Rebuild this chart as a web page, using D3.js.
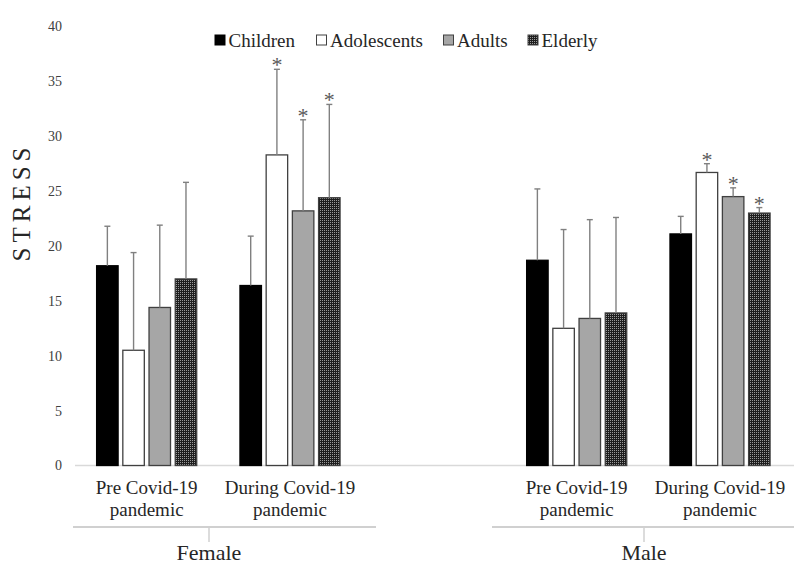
<!DOCTYPE html>
<html><head><meta charset="utf-8">
<script src="https://cdn.jsdelivr.net/npm/d3@7"></script>
<style>body{margin:0;background:#fff}svg{display:block}</style>
</head><body>
<svg id="c" width="794" height="565" font-family="'Liberation Serif', 'DejaVu Serif', serif"></svg>
<script>
const sexes = ["Female","Male"];
const periods = ["Pre Covid-19|pandemic","During Covid-19|pandemic"];
const ageGroups = ["Children","Adolescents","Adults","Elderly"];
const yTicks = [0,5,10,15,20,25,30,35,40];
// means
const femalePre    = [18.2,10.5,14.4,17.0];
const femaleDuring = [16.4,28.3,23.2,24.4];
const malePre      = [18.7,12.5,13.4,13.9];
const maleDuring   = [21.1,26.7,24.5,23.0];
// standard deviations (upper error bars)
const femalePreSD    = [3.6,8.9,7.5,8.8];
const femaleDuringSD = [4.5,7.8,8.3,8.5];
const malePreSD      = [6.5,9.0,9.0,8.7];
const maleDuringSD   = [1.6,0.8,0.8,0.5];
// significance markers
const femalePreSig    = [0,0,0,0];
const femaleDuringSig = [0,1,1,1];
const malePreSig      = [0,0,0,0];
const maleDuringSig   = [0,1,1,1];

const FONT = "'Liberation Serif', 'Times New Roman', serif";

const cats = [
  {key:"F0", sex:"Female", period:periods[0], vals:femalePre, sd:femalePreSD, sig:femalePreSig},
  {key:"F1", sex:"Female", period:periods[1], vals:femaleDuring, sd:femaleDuringSD, sig:femaleDuringSig},
  {key:"gap"},
  {key:"M0", sex:"Male", period:periods[0], vals:malePre, sd:malePreSD, sig:malePreSig},
  {key:"M1", sex:"Male", period:periods[1], vals:maleDuring, sd:maleDuringSD, sig:maleDuringSig}
];

const svg = d3.select("#c");
const y = d3.scaleLinear().domain([0,40]).range([465.5,26.5]);
const x0 = d3.scaleBand().domain(cats.map(c=>c.key)).range([75,791.7]).padding(0);
const x1 = d3.scaleBand().domain(ageGroups).range([0,x0.bandwidth()]).paddingInner(0.18).paddingOuter(0.825);

const defs = svg.append("defs");
const pat = defs.append("pattern").attr("id","dots").attr("patternUnits","userSpaceOnUse").attr("width",2).attr("height",2);
pat.append("rect").attr("width",2).attr("height",2).attr("fill","#1e1e1e");
pat.append("rect").attr("width",1).attr("height",1).attr("fill","#9a9a9a");

const fills = {Children:"#000", Adolescents:"#fff", Adults:"#a6a6a6", Elderly:"url(#dots)"};
const strokes = {Children:"#000", Adolescents:"#404040", Adults:"#404040", Elderly:"#404040"};

// y tick labels
svg.append("g").selectAll("text").data(yTicks).join("text")
  .attr("font-family",FONT)
  .attr("x",62).attr("y",d=>y(d)).attr("dy","0.35em").attr("text-anchor","end")
  .attr("font-size",14).attr("fill","#404040").text(d=>d);

// baseline
svg.append("line").attr("x1",75).attr("x2",794).attr("y1",y(0)).attr("y2",y(0))
  .attr("stroke","#d9d9d9").attr("stroke-width",1.5);

// bars
const dataCats = cats.filter(c=>c.vals);
const rows = [];
dataCats.forEach(c=>ageGroups.forEach((a,i)=>rows.push({cat:c.key, age:a, v:c.vals[i], sd:c.sd[i], sig:c.sig[i]})));
const bx = d=>x0(d.cat)+x1(d.age);
const bw = x1.bandwidth();

svg.append("g").selectAll("rect").data(rows).join("rect")
  .attr("x",bx).attr("y",d=>y(d.v)).attr("width",bw).attr("height",d=>y(0)-y(d.v))
  .attr("fill",d=>fills[d.age]).attr("stroke",d=>strokes[d.age]).attr("stroke-width",1.3);

// error bars
const eg = svg.append("g").attr("stroke","#808080").attr("stroke-width",1.4);
eg.selectAll("line.v").data(rows).join("line").attr("class","v")
  .attr("x1",d=>bx(d)+bw/2).attr("x2",d=>bx(d)+bw/2)
  .attr("y1",d=>y(d.v)).attr("y2",d=>y(d.v+d.sd));
eg.selectAll("line.c").data(rows).join("line").attr("class","c")
  .attr("x1",d=>bx(d)+bw/2-3).attr("x2",d=>bx(d)+bw/2+3)
  .attr("y1",d=>y(d.v+d.sd)).attr("y2",d=>y(d.v+d.sd));

// asterisks
svg.append("g").selectAll("text").data(rows.filter(d=>d.sig)).join("text")
  .attr("font-family",FONT)
  .attr("x",d=>bx(d)+bw/2).attr("y",d=>y(d.v+d.sd)+3).attr("text-anchor","middle")
  .attr("font-size",22).attr("fill","#595959").text("*");

// category labels
const lab = svg.append("g").selectAll("text").data(dataCats).join("text")
  .attr("font-family",FONT)
  .attr("text-anchor","middle").attr("font-size",19).attr("fill","#262626");
lab.each(function(d){
  const t = d3.select(this);
  d.period.split("|").forEach((ln,i)=>{
    t.append("tspan").attr("x",x0(d.key)+x0.bandwidth()/2).attr("y",494+i*22).text(ln);
  });
});

// group brackets
const groupSpans = [
  {name:sexes[0], x1:73, x2:376, tick:209},
  {name:sexes[1], x1:492, x2:794, tick:644}
];
const gg = svg.append("g");
gg.selectAll("line.h").data(groupSpans).join("line").attr("class","h")
  .attr("x1",d=>d.x1).attr("x2",d=>d.x2).attr("y1",527).attr("y2",527)
  .attr("stroke","#d0d0d0").attr("stroke-width",2);
gg.selectAll("line.t").data(groupSpans).join("line").attr("class","t")
  .attr("x1",d=>d.tick).attr("x2",d=>d.tick).attr("y1",527).attr("y2",542)
  .attr("stroke","#d0d0d0").attr("stroke-width",1.5);
gg.selectAll("text").data(groupSpans).join("text")
  .attr("font-family",FONT)
  .attr("x",d=>d.tick).attr("y",560).attr("text-anchor","middle")
  .attr("font-size",22).attr("fill","#262626").text(d=>d.name);

// y axis title
svg.append("text").attr("font-family",FONT).attr("transform","translate(29.5,202) rotate(-90)")
  .attr("text-anchor","middle").attr("font-size",25).attr("letter-spacing","5px")
  .attr("fill","#262626").text("STRESS");

// legend
const legX = [215,316.5,443.5,528];
const lg = svg.append("g").selectAll("g").data(ageGroups).join("g")
  .attr("transform",(d,i)=>`translate(${legX[i]},35)`);
lg.append("rect").attr("width",10).attr("height",10)
  .attr("fill",d=>fills[d]).attr("stroke",d=>strokes[d]).attr("stroke-width",1);
lg.append("text").attr("font-family",FONT).attr("x",13.5).attr("y",11.5).attr("font-size",19).attr("fill","#262626").text(d=>d);
</script>
</body></html>
